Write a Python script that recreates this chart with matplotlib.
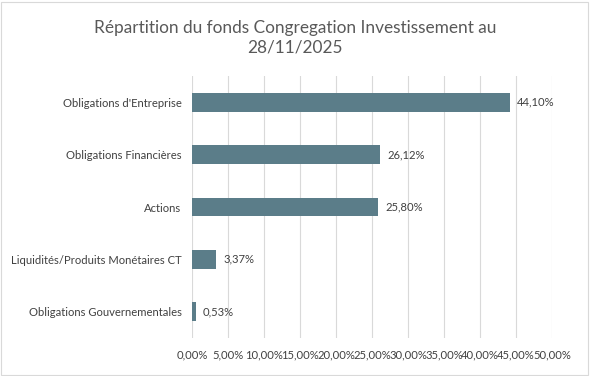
import matplotlib
matplotlib.use("Agg")
import matplotlib.pyplot as plt
from matplotlib.patches import Rectangle

categories = ["Obligations d'Entreprise", "Obligations Financières", "Actions",
              "Liquidités/Produits Monétaires CT", "Obligations Gouvernementales"]
values = [44.10, 26.12, 25.80, 3.37, 0.53]
xticks = [0, 5, 10, 15, 20, 25, 30, 35, 40, 45, 50]

def fr_pct(v):
	return ("%.2f%%" % v).replace(".", ",")

plt.rcParams['font.family'] = ['Lato', 'DejaVu Sans']

fig = plt.figure(figsize=(5.9, 3.76), dpi=100)
ax = fig.add_axes([192 / 590, 38 / 376, 360 / 590, 262 / 376])

ypos = list(range(len(categories)))
ax.barh(ypos, values, height=0.36, color='#5B7D89', zorder=3)
for y, v in zip(ypos, values):
	ax.text(v + 1.0, y, fr_pct(v), va='center', ha='left', fontsize=8.1, color='#404040')

ax.set_yticks(ypos)
ax.set_yticklabels(categories, fontsize=8.1, color='#404040')
ax.set_ylim(len(categories) - 0.5, -0.5)
ax.set_xlim(0, 50)
ax.set_xticks(xticks)
ax.set_xticklabels([fr_pct(t) for t in xticks], fontsize=8.1, color='#404040')
ax.tick_params(length=0)
ax.tick_params(axis='x', pad=8)
ax.tick_params(axis='y', pad=7.5)
ax.grid(axis='x', color='#d9d9d9', linewidth=0.8, zorder=0)
for s in ax.spines.values():
	s.set_visible(False)

fig.text(0.5, 1 - 38 / 376, "Répartition du fonds Congregation Investissement au\n28/11/2025",
	ha='center', va='center', fontsize=12.4, color='#595959', linespacing=1.25)

fig.patches.append(Rectangle((0.002, 0.003), 0.995, 0.993, transform=fig.transFigure,
	fill=False, edgecolor='#d9d9d9', linewidth=0.8))

fig.savefig("out.png", dpi=100)
